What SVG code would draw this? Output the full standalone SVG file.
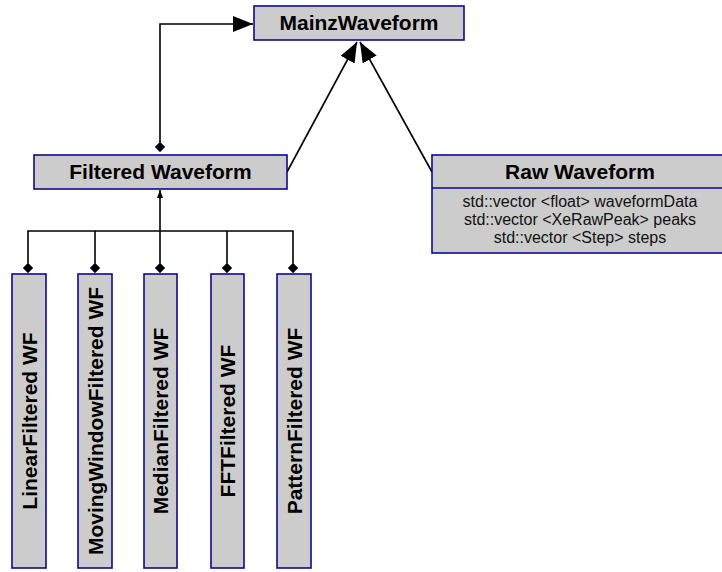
<svg xmlns="http://www.w3.org/2000/svg" width="722" height="572" viewBox="0 0 722 572">
  <style>
    .box { fill: #cccccc; stroke: #0a0a8c; stroke-width: 1.6; }
    .title { font-family: "Liberation Sans", Arial, sans-serif; font-weight: bold; font-size: 21px; fill: #000; text-anchor: middle; }
    .attr { font-family: "Liberation Sans", Arial, sans-serif; font-size: 16px; fill: #111; text-anchor: middle; }
    .conn { fill: none; stroke: #000; stroke-width: 1.6; }
  </style>
  <defs>
    <marker id="inherit" viewBox="0 0 20 16" refX="20" refY="8" markerWidth="20" markerHeight="16" markerUnits="userSpaceOnUse" orient="auto">
      <path d="M0,0 L20,8 L0,16 Z" fill="#000"/>
    </marker>
    <marker id="small" viewBox="0 0 8 8" refX="8" refY="4" markerWidth="8" markerHeight="8" markerUnits="userSpaceOnUse" orient="auto">
      <path d="M0,1 L8,4 L0,7 Z" fill="#000"/>
    </marker>
    <path id="diamond" d="M0,-5 L5,0 L0,5 L-5,0 Z" fill="#000" stroke="#1a3a8a" stroke-width="0.6"/>
  </defs>

  <!-- connectors -->
  <g id="connectors">
    <path class="conn" d="M160,147 L160,24 L253,24" marker-end="url(#inherit)"/>
    <path class="conn" d="M287,172 L357,42" marker-end="url(#inherit)"/>
    <path class="conn" d="M432,172 L360,42" marker-end="url(#inherit)"/>
    <use href="#diamond" x="160" y="147"/>
    <path class="conn" d="M28,267 L28,231 L293,231 L293,267"/>
    <path class="conn" d="M95,267 L95,231"/>
    <path class="conn" d="M227,267 L227,231"/>
    <path class="conn" d="M160,267 L160,190" marker-end="url(#small)"/>
    <use href="#diamond" x="28" y="268"/>
    <use href="#diamond" x="95" y="268"/>
    <use href="#diamond" x="160" y="268"/>
    <use href="#diamond" x="227" y="268"/>
    <use href="#diamond" x="293" y="268"/>
  </g>

  <g id="mainz">
    <rect class="box" x="254" y="6" width="210" height="34"/>
    <text class="title" x="359" y="30">MainzWaveform</text>
  </g>

  <g id="filtered">
    <rect class="box" x="34" y="155" width="253" height="34"/>
    <text class="title" x="160.5" y="179">Filtered Waveform</text>
  </g>

  <g id="raw">
    <rect class="box" x="432" y="155" width="296" height="98"/>
    <line class="box" x1="432" y1="188" x2="728" y2="188"/>
    <text class="title" x="580" y="179">Raw Waveform</text>
    <text class="attr" x="580" y="207">std::vector &lt;float&gt; waveformData</text>
    <text class="attr" x="580" y="225">std::vector &lt;XeRawPeak&gt; peaks</text>
    <text class="attr" x="580" y="243">std::vector &lt;Step&gt; steps</text>
  </g>

  <g id="linear">
    <rect class="box" x="12" y="274" width="34" height="294"/>
    <text class="title" transform="translate(37,421) rotate(-90)">LinearFiltered WF</text>
  </g>
  <g id="moving">
    <rect class="box" x="78" y="274" width="34" height="294"/>
    <text class="title" transform="translate(102.5,421) rotate(-90)">MovingWindowFiltered WF</text>
  </g>
  <g id="median">
    <rect class="box" x="144" y="274" width="33" height="294"/>
    <text class="title" transform="translate(168,421) rotate(-90)">MedianFiltered WF</text>
  </g>
  <g id="fft">
    <rect class="box" x="211" y="274" width="33" height="294"/>
    <text class="title" transform="translate(235,421) rotate(-90)">FFTFiltered WF</text>
  </g>
  <g id="pattern">
    <rect class="box" x="277" y="274" width="34" height="294"/>
    <text class="title" transform="translate(301.5,421) rotate(-90)">PatternFiltered WF</text>
  </g>
</svg>
